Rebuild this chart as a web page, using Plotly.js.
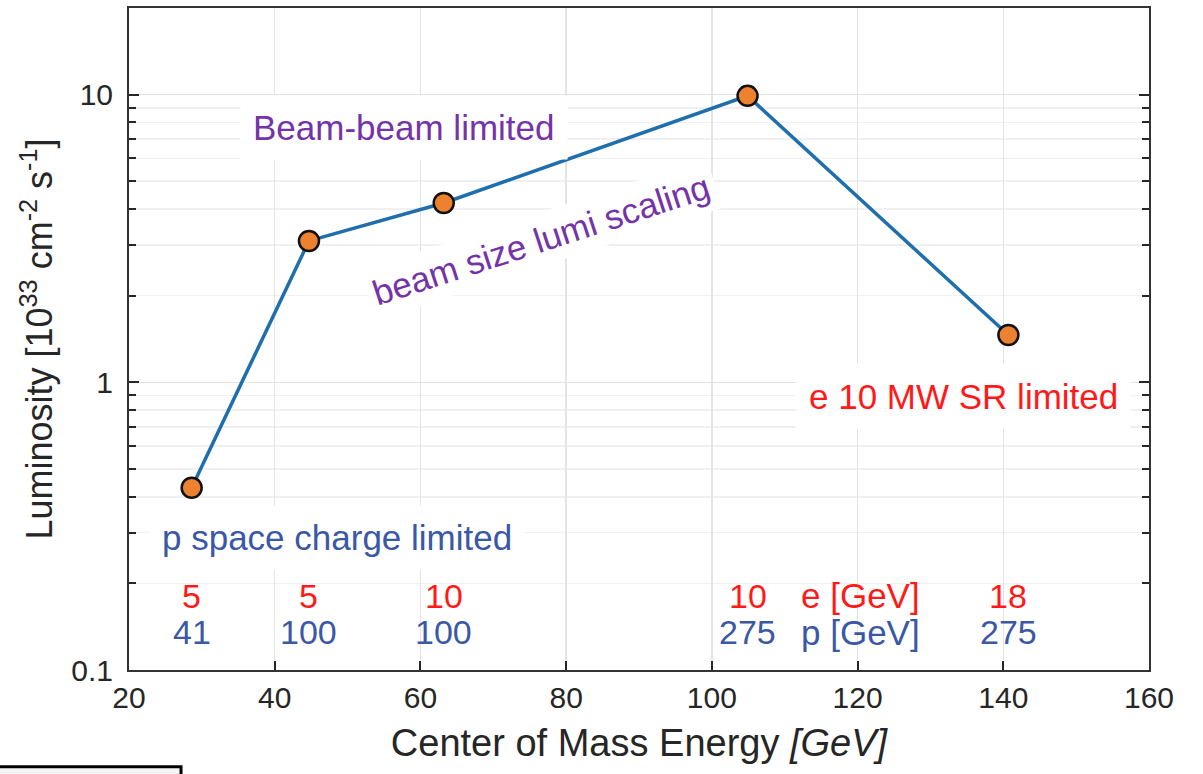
<!DOCTYPE html>
<html>
<head>
<meta charset="utf-8">
<script src="https://cdn.plot.ly/plotly-3.0.1.min.js"></script>
<style>html,body{margin:0;padding:0;background:#fff;}#chart{width:1203px;height:774px;}</style>
</head>
<body>
<div id="chart"></div>
<script>
// Data
const comEnergy = [28.6, 44.7, 63.2, 104.9, 140.7];
const luminosity = [0.43, 3.1, 4.2, 9.9, 1.46];
const eEnergy = ['5', '5', '10', '10', '18'];
const pEnergy = ['41', '100', '100', '275', '275'];
const yTickVals = [0.1, 1, 10];
const yTickText = ['0.1', '1', '10'];
const xTickVals = [20, 40, 60, 80, 100, 120, 140, 160];

const FONT = 'Liberation Sans, Arial, Helvetica, sans-serif';
const RED = '#ff1a1a';
const BLUE = '#3a58a6';
const PURPLE = '#7434a8';

const trace = {
  x: comEnergy, y: luminosity, type: 'scatter', mode: 'lines+markers',
  line: {color: '#1f6fad', width: 3.5},
  marker: {size: 20, color: '#ec8130', line: {color: '#111', width: 2.5}},
  hoverinfo: 'x+y', showlegend: false
};

const annotations = [];
comEnergy.forEach((x, i) => {
  annotations.push({x: x, xref: 'x', y: 0.112, yref: 'paper', text: eEnergy[i], showarrow: false,
    font: {family: FONT, size: 34, color: RED}, xanchor: 'center', yanchor: 'middle'});
  annotations.push({x: x, xref: 'x', y: 0.057, yref: 'paper', text: pEnergy[i], showarrow: false,
    font: {family: FONT, size: 34, color: BLUE}, xanchor: 'center', yanchor: 'middle'});
});
annotations.push({x: 0.657, xref: 'paper', y: 0.112, yref: 'paper', text: 'e [GeV]', showarrow: false,
  font: {family: FONT, size: 35, color: RED}, xanchor: 'left', yanchor: 'middle'});
annotations.push({x: 0.657, xref: 'paper', y: 0.057, yref: 'paper', text: 'p [GeV]', showarrow: false,
  font: {family: FONT, size: 35, color: BLUE}, xanchor: 'left', yanchor: 'middle'});

annotations.push({x: 0.270, xref: 'paper', y: 0.820, yref: 'paper', text: 'Beam-beam limited', showarrow: false,
  xanchor: 'center', yanchor: 'middle',
  font: {family: FONT, size: 35, color: PURPLE}, bgcolor: '#ffffff', borderpad: 12});
annotations.push({x: 0.404, xref: 'paper', y: 0.650, yref: 'paper', text: 'beam size lumi scaling', showarrow: false,
  xanchor: 'center', yanchor: 'middle',
  textangle: -18, font: {family: FONT, size: 35, color: PURPLE}, bgcolor: '#ffffff', borderpad: 6});
annotations.push({x: 0.2044, xref: 'paper', y: 0.2009, yref: 'paper', text: 'p space charge limited', showarrow: false,
  xanchor: 'center', yanchor: 'middle',
  font: {family: FONT, size: 35, color: BLUE}, bgcolor: '#ffffff', borderpad: 12});
annotations.push({x: 0.818, xref: 'paper', y: 0.4124, yref: 'paper', text: 'e 10 MW SR limited', showarrow: false,
  xanchor: 'center', yanchor: 'middle',
  font: {family: FONT, size: 35, color: RED}, bgcolor: '#ffffff', borderpad: 12});

const layout = {
  width: 1203, height: 774,
  margin: {l: 129, r: 54, t: 8, b: 104},
  paper_bgcolor: '#ffffff', plot_bgcolor: '#ffffff',
  font: {family: FONT, color: '#262626'},
  xaxis: {
    range: [20, 160], tickvals: xTickVals, ticks: 'inside', ticklen: 9, tickwidth: 2, tickcolor: '#262626',
    showline: true, linecolor: '#333333', linewidth: 2, mirror: true,
    showgrid: true, gridcolor: '#e4e4e4', gridwidth: 1.5, zeroline: false,
    tickfont: {family: FONT, size: 30, color: '#262626'},
    title: {text: 'Center of Mass Energy <i>[GeV]</i>', font: {family: FONT, size: 38, color: '#262626'}, standoff: 16}
  },
  yaxis: {
    type: 'log', range: [-1, Math.log10(20)], tickvals: yTickVals, ticktext: yTickText,
    ticks: 'inside', ticklen: 10, tickwidth: 2, tickcolor: '#262626', ticklabelstandoff: 8,
    showline: true, linecolor: '#333333', linewidth: 2, mirror: 'ticks',
    showgrid: true, gridcolor: '#e4e4e4', gridwidth: 1.5, zeroline: false,
    tickfont: {family: FONT, size: 30, color: '#262626'},
    minor: {tickvals: [0.2,0.3,0.4,0.5,0.6,0.7,0.8,0.9,2,3,4,5,6,7,8,9,20], ticks: 'inside', ticklen: 7, tickwidth: 2,
      tickcolor: '#262626', showgrid: true, gridcolor: '#f0f0f0', gridwidth: 1.5},
    title: {text: 'Luminosity [10<sup>33</sup> cm<sup>-2</sup> s<sup>-1</sup>]', font: {family: FONT, size: 36, color: '#262626'}, standoff: 8}
  },
  annotations: annotations,
  shapes: [{type: 'rect', xref: 'paper', yref: 'paper', x0: -0.2, x1: 0.051, y0: -0.17, y1: -0.146,
    line: {color: '#000', width: 3}, fillcolor: '#f4f4f4', layer: 'above'}]
};

Plotly.newPlot('chart', [trace], layout, {displayModeBar: false, staticPlot: true});
</script>
</body>
</html>
